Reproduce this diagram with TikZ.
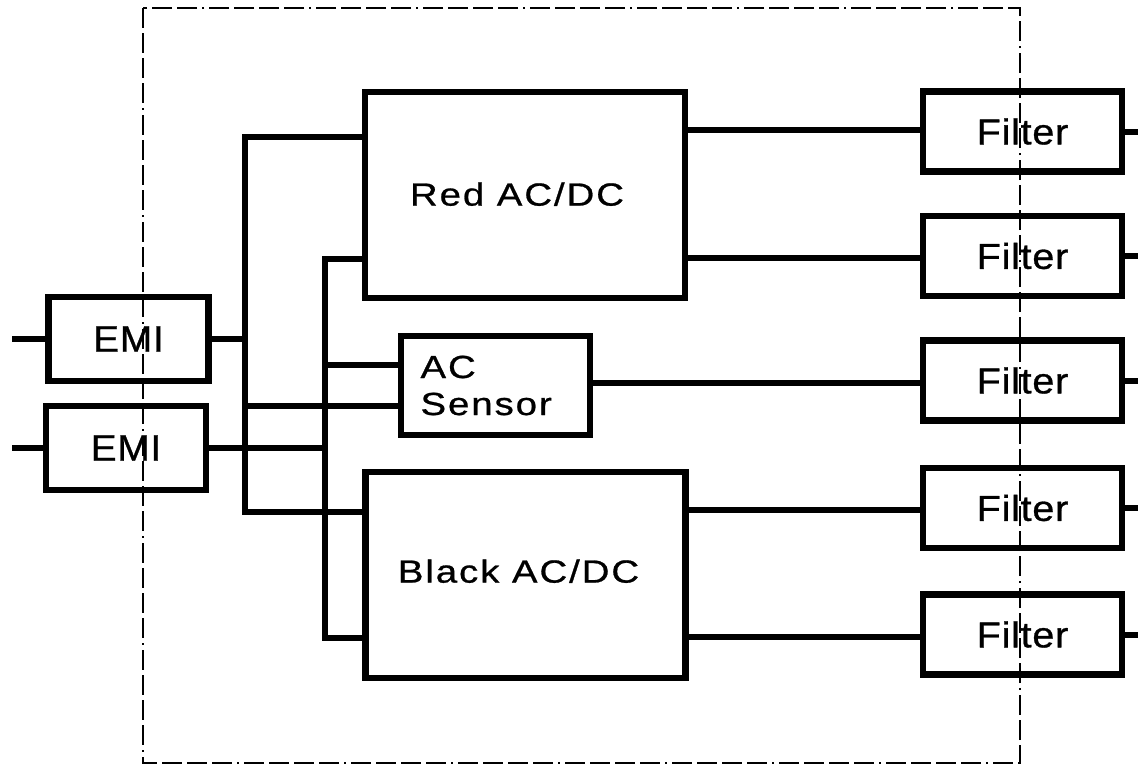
\documentclass[tikz,border=0pt]{standalone}
\usepackage{fontspec}
\setmainfont{Liberation Sans}
\newfontfamily\widefont{Liberation Sans}[FakeStretch=1.2, LetterSpace=6, FakeBold=0.8]
\newfontfamily\filtfont{Liberation Sans}[FakeStretch=1.1, LetterSpace=2, FakeBold=0.8]
\newfontfamily\emifont{Liberation Sans}[FakeStretch=1.05, LetterSpace=2, FakeBold=0.8]
\begin{document}
\begin{tikzpicture}[x=1pt,y=-1pt,
  blk/.style={draw, line width=6.5pt, inner sep=0pt, align=center, line join=miter},
  filt/.style={blk, minimum width=199pt, minimum height=80pt, font=\filtfont\fontsize{36}{40}\selectfont},
  emi/.style={blk, minimum width=160pt, minimum height=84pt, font=\emifont\fontsize{37}{40}\selectfont},
  conv/.style={blk, minimum width=320pt, minimum height=206pt, font=\widefont\fontsize{32}{37}\selectfont},
  wire/.style={line width=6pt, line join=miter, line cap=butt},
  frame/.style={line width=2pt, dash pattern=on 20pt off 5pt on 20pt off 5pt on 20pt off 5pt on 20pt off 5pt on 2pt off 5pt}
]
\useasboundingbox (0,0) rectangle (1138,766);
\fill[white] (0,0) rectangle (1138,766);

% dashed enclosure
\draw[frame] (143,8) rectangle (1020,763);

% blocks
\node[emi] (emi1) at (128.5,339) {\raisebox{-2pt}{EMI}};
\node[emi] (emi2) at (126,448) {\raisebox{-2pt}{EMI}};
\node[conv] (red) at (525,195) {\raisebox{2pt}{Red AC/DC}\kern16pt};
\node[conv] (black) at (525.5,575) {\raisebox{8pt}{Black AC/DC}\kern14pt};
\node[blk, minimum width=189pt, minimum height=99pt, text width=150pt, align=left,
      font=\widefont\fontsize{32}{37}\selectfont] (acs) at (495.5,385.5) {AC\\Sensor};
\node[filt] (f1) at (1022.5,131.5) {\raisebox{-3pt}{Filter}};
\node[filt] (f2) at (1022.5,256) {\raisebox{-3pt}{Filter}};
\node[filt] (f3) at (1022.5,380.5) {\raisebox{-3pt}{Filter}};
\node[filt] (f4) at (1022.5,508) {\raisebox{-3pt}{Filter}};
\node[filt] (f5) at (1022.5,634.5) {\raisebox{-3pt}{Filter}};

% free ends and bus points
\coordinate (in1) at (12,339);
\coordinate (in2) at (12,448);
\coordinate (b1t) at (245,137);
\coordinate (b1b) at (245,512);
\coordinate (b1e) at (245,339);
\coordinate (b1s) at (245,406);
\coordinate (b2t) at (325,259);
\coordinate (b2b) at (325,638);
\coordinate (b2e) at (325,448);
\coordinate (b2s) at (325,365);
\coordinate (o1) at (1138,131.5);
\coordinate (o2) at (1138,256);
\coordinate (o3) at (1138,380.5);
\coordinate (o4) at (1138,508);
\coordinate (o5) at (1138,634.5);

% inputs
\draw[wire] (in1) -- (emi1.west);
\draw[wire] (in2) -- (emi2.west);
\draw[wire] (emi1.east) -- (b1e);
\draw[wire] (emi2.east) -- (b2e);

% bus 1
\draw[wire] (b1t -| red.west) -- (b1t) -- (b1b) -- (b1b -| black.west);
\draw[wire] (b1s) -- (b1s -| acs.west);
% bus 2
\draw[wire] (b2t -| red.west) -- (b2t) -- (b2b) -- (b2b -| black.west);
\draw[wire] (b2s) -- (b2s -| acs.west);

% outputs to filters
\draw[wire] (red.east |- 0,130) -- (f1.west |- 0,130);
\draw[wire] (red.east |- 0,258) -- (f2.west |- 0,258);
\draw[wire] (acs.east |- 0,383) -- (f3.west |- 0,383);
\draw[wire] (black.east |- 0,510) -- (f4.west |- 0,510);
\draw[wire] (black.east |- 0,637) -- (f5.west |- 0,637);

% filter outputs
\draw[wire] (f1.east) -- (o1);
\draw[wire] (f2.east) -- (o2);
\draw[wire] (f3.east) -- (o3);
\draw[wire] (f4.east) -- (o4);
\draw[wire] (f5.east) -- (o5);
\end{tikzpicture}
\end{document}
